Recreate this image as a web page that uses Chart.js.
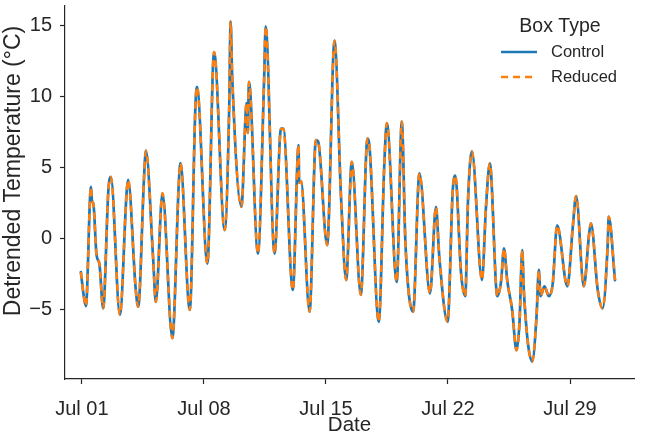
<!DOCTYPE html>
<html>
<head>
<meta charset="utf-8">
<title>Detrended temperature by box type</title>
<script src="https://cdn.jsdelivr.net/npm/chart.js@4/dist/chart.umd.min.js"></script>
<style>
  html, body { margin: 0; padding: 0; background: #fff; }
  #wrap { width: 645px; height: 432px; }
</style>
</head>
<body>
<div id="wrap"><canvas id="chart" width="645" height="432"></canvas></div>
<script>
// days after Jul 01 00:00, read at the peaks, troughs and kinks of the trace
const dayOffsets = [
  -0.06, 0.12, 0.23, 0.52, 0.58, 0.66, 0.84, 1.0, 1.22, 1.52,
  1.66, 2.18, 2.57, 2.65, 3.09, 3.23, 3.55, 3.62, 3.67, 4.08,
  4.24, 4.62, 5.19, 5.56, 5.65, 6.19, 6.51, 6.6, 7.2, 7.58,
  8.19, 8.45, 8.53, 8.62, 9.15, 9.45, 9.52, 9.58, 10.1, 10.45,
  10.54, 11.05, 11.42, 11.55, 12.1, 12.43, 12.46, 12.57, 13.06, 13.42,
  13.55, 14.07, 14.49, 14.87, 15.16, 15.48, 16.0, 16.38, 16.5, 17.03,
  17.35, 17.49, 18.06, 18.35, 18.56, 19.0, 19.36, 19.97, 20.31, 20.5,
  20.98, 21.27, 21.42, 21.75, 21.99, 22.15, 22.37, 22.95, 23.18, 23.4,
  23.83, 24.05, 24.21, 24.4, 24.68, 24.93, 25.1, 25.26, 25.35, 25.83,
  26.08, 26.21, 26.31, 26.53, 26.79, 27.01, 27.26, 27.85, 28.16, 28.35,
  28.79, 29.11, 29.2, 29.59, 29.87, 30.16, 30.22, 30.58
];

// detrended temperature (°C), Control box
const controlTemp = [
  -2.4, -4.2, -4.8, 3.6, 2.6, 2.4, -1.2, -1.8, -4.95, 3.4,
  4.3, -5.4, 3.3, 4.1, -3.66, -4.84, 3.9, 5.6, 6.15, -1.3,
  -4.5, 3.15, -7.05, 3.9, 5.27, -5.07, 9.25, 10.65, -1.8, 13.1,
  0.56, 9.2, 15.25, 11.4, 2.2, 9.5, 7.4, 11.0, -1.1, 11.1,
  14.9, -1.1, 7.7, 7.7, -3.66, 6.55, 3.9, 4.0, -5.2, 6.9,
  6.8, -0.5, 13.9, 2.7, -2.96, 5.37, -4.0, 7.0, 6.4, -5.9,
  5.3, 8.1, -3.1, 8.2, -0.4, -5.2, 4.55, -3.9, 2.2, -1.3,
  -5.9, 3.3, 4.4, -2.5, -4.1, 2.7, 6.1, -2.96, 2.2, 5.26,
  -4.1, -3.0, -0.73, -3.0, -5.07, -7.9, -6.0, -0.85, -3.7, -8.7,
  -5.5, -2.25, -4.1, -3.4, -4.1, -3.2, 0.9, -3.4, 0.8, 2.96,
  -3.4, 0.44, 1.03, -3.66, -4.95, -0.5, 1.5, -2.96
];

// the Reduced trace sits on top of Control within the line width everywhere
const reducedTemp = controlTemp.slice();

const seriesNames = ['Control', 'Reduced'];
const seriesColors = ['#1f77b4', '#ff7f0e'];
const legendTitle = 'Box Type';
const xTitle = 'Date';
const yTitle = 'Detrended Temperature (°C)';
const xTickDays = [0, 7, 14, 21, 28];
const yTicks = [-5, 0, 5, 10, 15];

const INK = '#262626';
const FONT = '"Liberation Sans", Arial, sans-serif';

function dayLabel(d) {
  return 'Jul ' + String(d + 1).padStart(2, '0');
}

function toPoints(values) {
  return values.map((v, i) => ({ x: dayOffsets[i], y: v }));
}

// tick labels must not push the plot area around
function noLabelPadding(s) {
  s.paddingTop = 0;
  s.paddingBottom = 0;
  s.paddingLeft = 0;
  s.paddingRight = 0;
}

// y label sits a little above the axes centre in the original
const yLabel = {
  id: 'yLabel',
  afterDraw(chart) {
    const ctx = chart.ctx;
    ctx.save();
    ctx.translate(14, 171);
    ctx.rotate(-Math.PI / 2);
    ctx.fillStyle = INK;
    ctx.font = '23px ' + FONT;
    ctx.textAlign = 'center';
    ctx.textBaseline = 'middle';
    ctx.fillText(yTitle, 0, 0);
    ctx.restore();
  }
};

// seaborn style legend, upper right inside the axes
const boxLegend = {
  id: 'boxLegend',
  afterDraw(chart) {
    const ctx = chart.ctx;
    const r = chart.chartArea.right;
    const top = chart.chartArea.top;
    ctx.save();
    ctx.fillStyle = INK;
    ctx.textBaseline = 'middle';
    ctx.textAlign = 'center';
    ctx.font = '19.5px ' + FONT;
    ctx.fillText(legendTitle, r - 74, top + 21);

    ctx.font = '16.5px ' + FONT;
    ctx.textAlign = 'left';
    seriesNames.forEach((name, i) => {
      const y = top + 46 + i * 25;
      ctx.strokeStyle = seriesColors[i];
      ctx.lineWidth = 2.5;
      ctx.setLineDash(i === 0 ? [] : [7, 5]);
      ctx.beginPath();
      ctx.moveTo(r - 133, y);
      ctx.lineTo(r - 97, y);
      ctx.stroke();
      ctx.fillText(name, r - 83, y);
    });
    ctx.restore();
  }
};

new Chart(document.getElementById('chart'), {
  type: 'line',
  data: {
    datasets: [
      {
        label: seriesNames[0],
        data: toPoints(controlTemp),
        borderColor: seriesColors[0],
        borderWidth: 2.7,
        borderJoinStyle: 'round',
        borderCapStyle: 'round',
        order: 1
      },
      {
        label: seriesNames[1],
        data: toPoints(reducedTemp),
        borderColor: seriesColors[1],
        borderWidth: 2.5,
        borderDash: [7, 5],
        borderJoinStyle: 'round',
        order: 0
      }
    ]
  },
  options: {
    responsive: false,
    animation: false,
    events: [],
    parsing: false,
    cubicInterpolationMode: 'monotone',
    elements: { point: { radius: 0 } },
    layout: { padding: { top: 6, right: 11, left: 0, bottom: 0 } },
    plugins: { legend: { display: false }, tooltip: { enabled: false } },
    scales: {
      x: {
        type: 'linear',
        min: -0.97,
        max: 31.67,
        afterBuildTicks: s => { s.ticks = xTickDays.map(v => ({ value: v })); },
        afterFit: s => { s.height = 53; noLabelPadding(s); },
        grid: { drawOnChartArea: false, tickLength: 5, tickColor: INK, tickWidth: 1.2 },
        border: { color: INK, width: 1.2 },
        ticks: {
          color: INK, padding: 13, maxRotation: 0, autoSkip: false,
          font: { family: FONT, size: 20 },
          callback: v => dayLabel(v)
        },
        title: {
          display: true, text: xTitle, color: INK, padding: 0,
          font: { family: FONT, size: 20.5, lineHeight: 0.65 }
        }
      },
      y: {
        min: -9.93,
        max: 16.34,
        afterBuildTicks: s => { s.ticks = yTicks.map(v => ({ value: v })); },
        afterFit: s => { s.width = 65; noLabelPadding(s); },
        grid: { drawOnChartArea: false, tickLength: 5, tickColor: INK, tickWidth: 1.2 },
        border: { color: INK, width: 1.2 },
        ticks: {
          color: INK, padding: 8,
          font: { family: FONT, size: 20 },
          callback: v => (v < 0 ? '\u2212' + Math.abs(v) : String(v))
        }
      }
    }
  },
  plugins: [yLabel, boxLegend]
});
</script>
</body>
</html>
